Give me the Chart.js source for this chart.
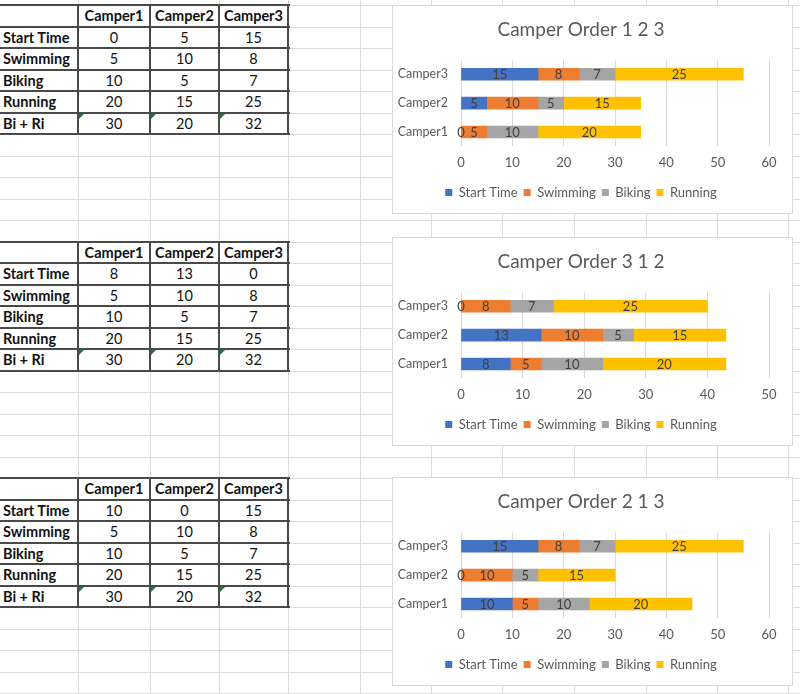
<!DOCTYPE html>
<html>
<head>
<meta charset="utf-8">
<script src="https://cdn.jsdelivr.net/npm/chart.js@4.4.0/dist/chart.umd.min.js"></script>
<style>
  body { margin: 0; width: 800px; height: 694px; overflow: hidden; background: #fff; font-family: Lato, sans-serif; position: relative; }
  .gl { position: absolute; background: #dcdcdc; }
  .tl { position: absolute; background: #4a4a4a; }
  .txt { position: absolute; font-size: 14.5px; color: #111; line-height: 22px; }
  .tri { position: absolute; width: 0; height: 0; border-top: 5px solid #1e7a3a; border-right: 5px solid transparent; }
  .panel { position: absolute; left: 392px; width: 401px; height: 209px; background: #fff; border: 1px solid #d9d9d9; box-sizing: border-box; }
  .panel canvas { position: absolute; left: 0; top: 0; }
</style>
</head>
<body>
<div id="sheet"></div>
<div class="panel" style="top:5px"><canvas id="c0" width="399" height="207"></canvas></div>
<div class="panel" style="top:237px"><canvas id="c1" width="399" height="207"></canvas></div>
<div class="panel" style="top:477px"><canvas id="c2" width="399" height="207"></canvas></div>
<script>
// data
var campers = ['Camper1', 'Camper2', 'Camper3'];
var activities = ['Start Time', 'Swimming', 'Biking', 'Running'];
var startTime123 = [0, 5, 15];
var startTime312 = [8, 13, 0];
var startTime213 = [10, 0, 15];
var swimming = [5, 10, 8];
var biking = [10, 5, 7];
var running = [20, 15, 25];
var biPlusRi = [30, 20, 32];
var titles = ['Camper Order 1 2 3', 'Camper Order 3 1 2', 'Camper Order 2 1 3'];
var xMax = [60, 50, 60];
var xStep = 10;
var colors = ['#4472C4', '#ED7D31', '#A5A5A5', '#FFC000'];

var starts = [startTime123, startTime312, startTime213];

// spreadsheet grid
var sheet = document.getElementById('sheet');
var colX = [78, 150, 219, 288, 360, 431, 502, 574, 646, 717, 788];
function rowY(k) { return Math.round(5 + 21.5 * k); }
function add(cls, css, html) {
  var d = document.createElement('div');
  d.className = cls;
  d.style.cssText = css;
  if (html !== undefined) d.textContent = html;
  sheet.appendChild(d);
  return d;
}
for (var k = 0; rowY(k) < 694; k++) add('gl', 'left:0;width:800px;height:1px;top:' + rowY(k) + 'px');
colX.forEach(function (x) { add('gl', 'top:0;height:694px;width:1px;left:' + x + 'px'); });

// tables
[0, 11, 22].forEach(function (k0, t) {
  var rows = [starts[t], swimming, biking, running, biPlusRi];
  for (var r = 0; r <= 6; r++) add('tl', 'left:0;width:290px;height:2px;top:' + (rowY(k0 + r) - 1) + 'px');
  [78, 150, 219, 288].forEach(function (x) {
    add('tl', 'width:2px;left:' + (x - 1) + 'px;top:' + (rowY(k0) - 1) + 'px;height:' + (rowY(k0 + 6) - rowY(k0) + 2) + 'px');
  });
  var cx = [78, 150, 219, 288];
  campers.forEach(function (c, i) {
    add('txt', 'font-weight:bold;text-align:center;left:' + cx[i] + 'px;width:' + (cx[i + 1] - cx[i]) + 'px;top:' + rowY(k0) + 'px', c);
  });
  var labels = activities.concat(['Bi + Ri']);
  rows.forEach(function (vals, r) {
    var y = rowY(k0 + r + 1);
    add('txt', 'font-weight:bold;left:3px;top:' + y + 'px', labels[r]);
    vals.forEach(function (v, i) {
      add('txt', 'text-align:center;left:' + cx[i] + 'px;width:' + (cx[i + 1] - cx[i]) + 'px;top:' + y + 'px', v);
      if (r === 4) add('tri', 'left:' + (cx[i] + 1) + 'px;top:' + (y + 1) + 'px');
    });
  });
});

// value labels inside the bars
var barLabels = {
  id: 'barLabels',
  afterDatasetsDraw: function (chart) {
    var ctx = chart.ctx;
    ctx.save();
    ctx.font = '13px Lato, sans-serif';
    ctx.fillStyle = '#404040';
    ctx.textAlign = 'center';
    ctx.textBaseline = 'middle';
    chart.data.datasets.forEach(function (ds, i) {
      chart.getDatasetMeta(i).data.forEach(function (bar, j) {
        var p = bar.getProps(['x', 'y', 'base'], true);
        ctx.fillText(ds.data[j], (p.x + p.base) / 2, p.y + 1);
      });
    });
    ctx.restore();
  }
};

Chart.defaults.font.family = 'Lato, sans-serif';

function makeChart(id, title, start, max) {
  var series = [start, swimming, biking, running];
  new Chart(document.getElementById(id), {
    type: 'bar',
    data: {
      labels: campers,
      datasets: series.map(function (d, i) {
        return { label: activities[i], data: d, backgroundColor: colors[i], barThickness: 12 };
      })
    },
    options: {
      responsive: false,
      animation: false,
      devicePixelRatio: 1,
      indexAxis: 'y',
      layout: { padding: { left: 0, right: 23, top: 0, bottom: 4 } },
      scales: {
        x: {
          stacked: true, min: 0, max: max,
          ticks: { stepSize: xStep, color: '#595959', font: { size: 13 }, padding: 9 },
          grid: { color: '#d9d9d9', drawTicks: false },
          border: { display: false }
        },
        y: {
          stacked: true, reverse: true,
          ticks: { color: '#595959', font: { size: 12.5 }, padding: 13 },
          grid: { display: false, drawTicks: false },
          border: { display: false },
          afterFit: function (s) { s.width = 68; }
        }
      },
      plugins: {
        title: { display: true, text: title, color: '#595959', font: { size: 19, weight: 'normal' }, padding: { top: 12, bottom: 19 } },
        legend: { position: 'bottom', labels: { boxWidth: 7, boxHeight: 7, color: '#595959', font: { size: 13 }, padding: 6 } },
        tooltip: { enabled: false }
      }
    },
    plugins: [barLabels]
  });
}

titles.forEach(function (t, i) { makeChart('c' + i, t, starts[i], xMax[i]); });
</script>
</body>
</html>
